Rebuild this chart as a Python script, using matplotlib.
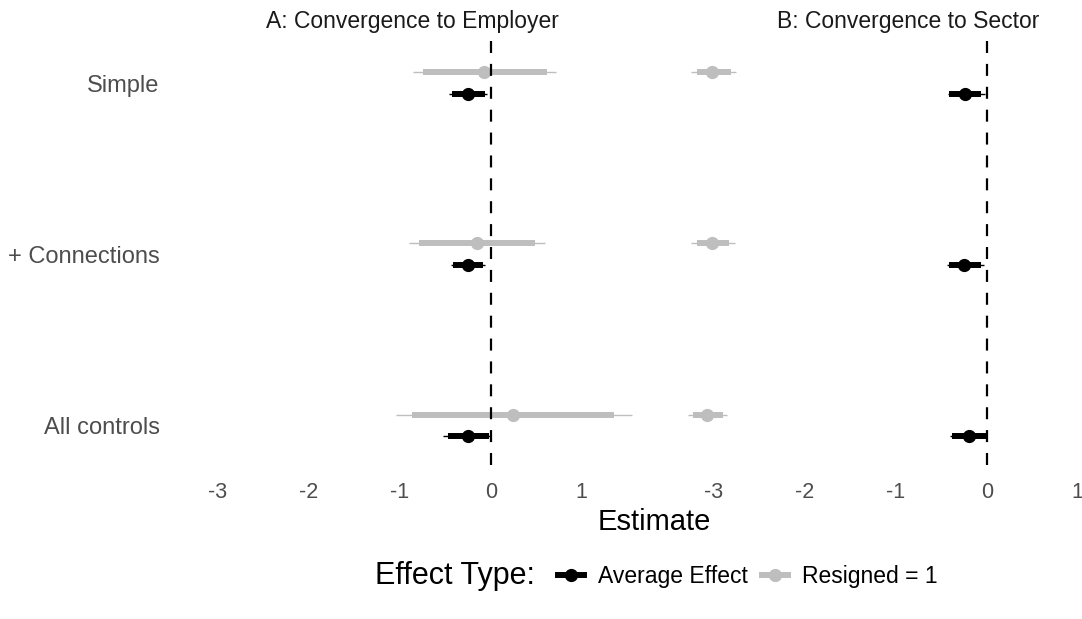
import numpy as np
import matplotlib.pyplot as plt
from matplotlib.lines import Line2D

plt.rcParams['font.family'] = ['Liberation Sans', 'DejaVu Sans']

models = ["Simple", "+ Connections", "All controls"]
panels = ["A: Convergence to Employer", "B: Convergence to Sector"]

# estimates and confidence bands (90% thick, 95% thin), one row per model
avg_est = {
    "A": [-0.25, -0.25, -0.25],
    "B": [-0.24, -0.25, -0.20],
}
avg_lo90 = {"A": [-0.43, -0.42, -0.47], "B": [-0.41, -0.41, -0.38]}
avg_hi90 = {"A": [-0.06, -0.08, -0.02], "B": [-0.06, -0.06, -0.01]}
avg_lo95 = {"A": [-0.46, -0.44, -0.52], "B": [-0.43, -0.44, -0.40]}
avg_hi95 = {"A": [-0.04, -0.06, -0.01], "B": [-0.02, -0.03, 0.00]}

res_est = {
    "A": [-0.07, -0.15, 0.24],
    "B": [-3.02, -3.02, -3.07],
}
res_lo90 = {"A": [-0.74, -0.79, -0.87], "B": [-3.19, -3.19, -3.23]}
res_hi90 = {"A": [0.62, 0.49, 1.36], "B": [-2.81, -2.83, -2.90]}
res_lo95 = {"A": [-0.85, -0.90, -1.04], "B": [-3.25, -3.25, -3.28]}
res_hi95 = {"A": [0.72, 0.60, 1.55], "B": [-2.76, -2.77, -2.86]}

xticks = [-3, -2, -1, 0, 1]

BLACK = "#000000"
GREY = "#BEBEBE"
TXT = "#4D4D4D"

fig = plt.figure(figsize=(10.82, 6.19), dpi=100)
ypos = np.array([2, 1, 0])
offset = 0.063

for i, key in enumerate(["A", "B"]):
    left = 0.1719 + i * 0.4584
    ax = fig.add_axes([left, 0.249, 0.4187, 0.686])
    for est, lo9, hi9, lo5, hi5, col, dy in [
        (res_est, res_lo90, res_hi90, res_lo95, res_hi95, GREY, offset),
        (avg_est, avg_lo90, avg_hi90, avg_lo95, avg_hi95, BLACK, -offset),
    ]:
        y = ypos + dy
        ax.hlines(y, lo5[key], hi5[key], color=col, lw=1.0, zorder=2)
        ax.hlines(y, lo9[key], hi9[key], color=col, lw=4.3, zorder=3)
        ax.plot(est[key], y, "o", color=col, ms=8.5, zorder=4)
    ax.axvline(0, color=BLACK, lw=1.6, ls=(0, (5.4, 4.9)), zorder=5)
    ax.set_xlim(-3.35, 1.63)
    ax.set_ylim(-0.23, 2.25)
    ax.set_xticks(xticks)
    ax.set_xticklabels([str(t) for t in xticks], color=TXT, fontsize=15.5)
    ax.set_yticks(ypos)
    if i == 0:
        ax.set_yticklabels(models, color=TXT, fontsize=17)
    else:
        ax.set_yticklabels([])
    ax.tick_params(length=0, axis="x", pad=12)
    ax.tick_params(length=0, axis="y", pad=19)
    for s in ax.spines.values():
        s.set_visible(False)
    fig.text(left + 0.4187 / 2, 0.965, panels[i], fontsize=16.5,
             color="#1A1A1A", ha="center", va="center")

fig.text(0.605, 0.157, "Estimate", fontsize=21, ha="center", va="center")

fig.text(0.3465, 0.069, "Effect Type:", fontsize=22, ha="left", va="center")
handles = [
    Line2D([], [], color=BLACK, lw=4.3, marker="o", ms=8.5),
    Line2D([], [], color=GREY, lw=4.3, marker="o", ms=8.5),
]
fig.legend(handles, ["Average Effect", "Resigned = 1"], ncol=2, frameon=False,
           loc="center left", bbox_to_anchor=(0.4966, 0.069), fontsize=16.5,
           handlelength=1.15, handletextpad=0.6, columnspacing=0.6,
           borderpad=0.4)

fig.savefig("out.png", dpi=100)
